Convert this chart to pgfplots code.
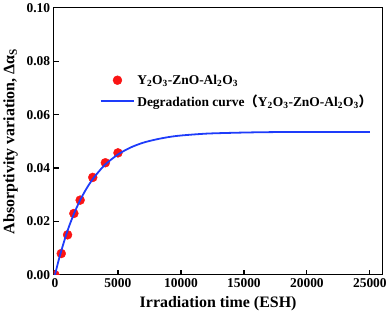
\documentclass[border=0pt]{standalone}
\usepackage{pgfplots}
\pgfplotsset{compat=1.18}
\usepackage{fontspec}
\setmainfont{Liberation Serif}
\newfontfamily\cjk{Noto Sans CJK SC}
\definecolor{curveblue}{RGB}{30,60,250}
\definecolor{ptred}{RGB}{250,20,20}

\begin{document}
\begin{tikzpicture}
\begin{axis}[
  width=330pt, height=268pt,
  scale only axis,
  xmin=-100, xmax=26000,
  ymin=0, ymax=0.1,
  xtick={0,5000,10000,15000,20000,25000},
  ytick={0,0.02,0.04,0.06,0.08,0.1},
  scaled x ticks=false,
  scaled y ticks=false,
  xticklabel style={/pgf/number format/1000 sep=},
  yticklabel style={/pgf/number format/.cd,fixed,fixed zerofill,precision=2},
  /pgf/number format/assume math mode=true,
  ticklabel style={font=\bfseries\fontsize{13.5}{14}\selectfont},
  tick align=inside,
  xtick pos=bottom, ytick pos=left,
  major tick length=5pt,
  minor tick num=0,
  axis line style={line width=1.2pt},
  every tick/.style={black,line width=1.2pt},
  xlabel={\bfseries Irradiation time (ESH)},
  ylabel={\bfseries Absorptivity variation, Δα\textsubscript{S}},
  xlabel style={yshift=-2pt},
  ylabel style={yshift=2pt},
  label style={font=\bfseries\fontsize{16}{17}\selectfont},
  legend style={at={(0.13,0.765)}, anchor=north west, draw=none, fill=none,
    font=\bfseries\fontsize{13.5}{15}\selectfont, row sep=5pt},
  legend cell align=left,
  legend image code/.code={\draw[mark repeat=2,mark phase=2,#1]
    plot coordinates {(0pt,0pt) (17pt,0pt) (34pt,0pt)};},
  clip marker paths=true,
]
\addplot[only marks, mark=*, mark size=4.5pt, color=ptred] coordinates {
  (0,0) (500,0.008) (1000,0.015) (1500,0.023) (2000,0.028)
  (3000,0.0365) (4000,0.042) (5000,0.0457)
};
\addlegendentry{Y\textsubscript{2}O\textsubscript{3}-ZnO-Al\textsubscript{2}O\textsubscript{3}}
\addplot[color=curveblue, line width=1.8pt, smooth] coordinates {
  (0,0) (250,0.0047) (500,0.0090) (1000,0.0166) (1500,0.0228)
  (2000,0.0280) (2500,0.0323) (3000,0.0359) (3500,0.0388)
  (4000,0.0414) (5000,0.0451) (6000,0.0477) (7000,0.0495)
  (8000,0.0507) (9000,0.0516) (10000,0.0522) (12000,0.0529)
  (14000,0.0532) (16000,0.0534) (18000,0.0535) (20000,0.0535)
  (25000,0.0535)
};
\addlegendentry{Degradation curve{\cjk （}Y\textsubscript{2}O\textsubscript{3}-ZnO-Al\textsubscript{2}O\textsubscript{3}{\cjk ）}}
\end{axis}
\end{tikzpicture}
\end{document}
